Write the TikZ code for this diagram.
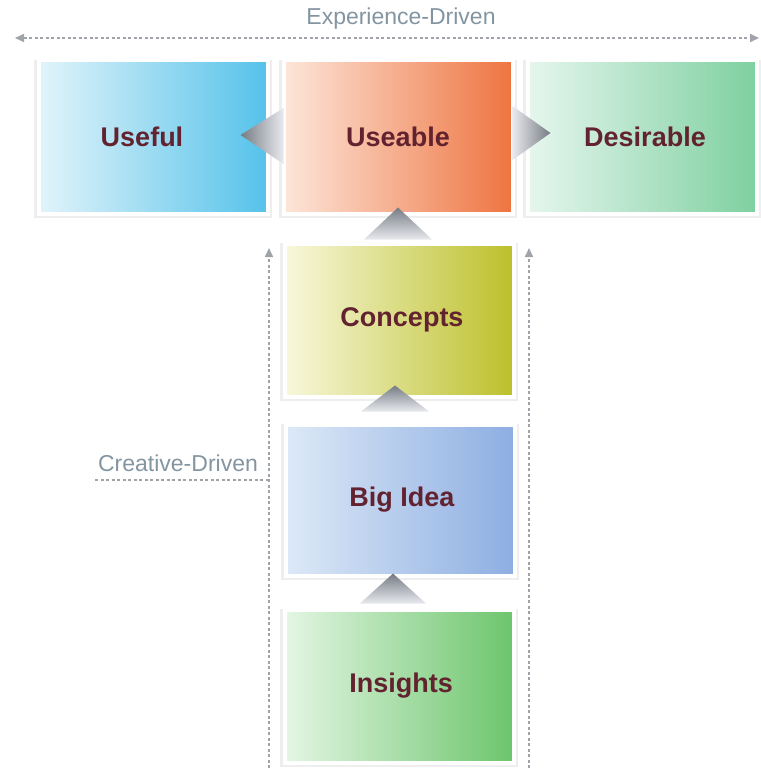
\documentclass[tikz,border=0pt]{standalone}
\usepackage{fontspec}
\setmainfont{Liberation Sans}
\usetikzlibrary{arrows.meta,shadows}
\definecolor{lbl}{HTML}{62222F}
\definecolor{dlbl}{HTML}{8495A2}
\definecolor{dashc}{HTML}{A0A4AA}
\definecolor{usefulL}{HTML}{E2F4FA}
\definecolor{usefulR}{HTML}{55C2EA}
\definecolor{useableL}{HTML}{FDE6DA}
\definecolor{useableR}{HTML}{EE7440}
\definecolor{desL}{HTML}{E6F6EE}
\definecolor{desR}{HTML}{7ED0A0}
\definecolor{conL}{HTML}{F8F8DC}
\definecolor{conR}{HTML}{BCC02A}
\definecolor{bigL}{HTML}{DDE9F7}
\definecolor{bigR}{HTML}{8DAEE2}
\definecolor{insL}{HTML}{E4F6E4}
\definecolor{insR}{HTML}{6CC56C}
\definecolor{triD}{HTML}{767B84}
\definecolor{triL}{HTML}{E8EAEE}
\tikzset{
  box/.style={rectangle, draw=white, line width=4pt, minimum width=229pt, minimum height=153pt,
    inner sep=0pt, font=\fontsize{27}{31}\selectfont\bfseries, text=lbl,
    drop shadow={opacity=0.13, shadow scale=1.035, shadow xshift=0pt, shadow yshift=-2pt}},
  dashline/.style={draw=dashc, line width=1.6pt, dash pattern=on 3pt off 2.5pt},
  arr/.style={-{Triangle[length=9pt,width=8pt]}},
  dlabel/.style={font=\fontsize{23}{27}\selectfont, text=dlbl, inner sep=0pt}
}
\begin{document}
\begin{tikzpicture}[x=1pt,y=-1pt]
\useasboundingbox (0,0) rectangle (760,768);
\fill[white] (0,0) rectangle (760,768);

% dashed guide lines
\coordinate (expL) at (15,38);
\coordinate (expR) at (759,38);
\coordinate (vlb) at (269,768);
\coordinate (vlt) at (269,248);
\coordinate (vrb) at (529,768);
\coordinate (vrt) at (529,248);
\coordinate (crL) at (95,480);
\coordinate (crR) at (269,480);
\draw[dashline, {Triangle[length=9pt,width=8pt]}-{Triangle[length=9pt,width=8pt]}] (expL) -- (expR);
\draw[dashline, arr] (vlb) -- (vlt);
\draw[dashline, arr] (vrb) -- (vrt);
\draw[dashline] (crL) -- (crR);
\node[dlabel] (exp) at (401,19) {Experience-Driven};
\node[dlabel] (cre) at (178,463) {Creative-Driven};

% boxes
\node[box, left color=usefulL, right color=usefulR] (useful) at (153,137) {\hspace*{-22pt}Useful};
\node[box, left color=useableL, right color=useableR] (useable) at (398,137) {Useable};
\node[box, left color=desL, right color=desR] (desirable) at (642,137) {\hspace*{6pt}Desirable};
\node[box, left color=conL, right color=conR] (concepts) at (399,320) {\hspace*{6pt}Concepts};
\node[box, minimum height=151pt, left color=bigL, right color=bigR] (bigidea) at (400,500) {\hspace*{4pt}Big Idea};
\node[box, left color=insL, right color=insR] (insights) at (399,686) {\hspace*{4pt}Insights};

% triangle connectors
\shade[left color=triD, right color=triL]
  ([xshift=-41pt,yshift=2pt]useable.west) -- ([xshift=2pt,yshift=29pt]useable.west) -- ([xshift=2pt,yshift=-27pt]useable.west) -- cycle;
\shade[left color=triL, right color=triD]
  ([xshift=36pt,yshift=4pt]useable.east) -- ([xshift=-2pt,yshift=31pt]useable.east) -- ([xshift=-2pt,yshift=-23pt]useable.east) -- cycle;
\shade[top color=triD, bottom color=triL]
  ([yshift=8pt]useable.south) -- ([xshift=-34pt,yshift=-24pt]useable.south) -- ([xshift=34pt,yshift=-24pt]useable.south) -- cycle;
\shade[top color=triD, bottom color=triL]
  ([xshift=-4pt,yshift=13pt]concepts.south) -- ([xshift=-38pt,yshift=-13pt]concepts.south) -- ([xshift=30pt,yshift=-13pt]concepts.south) -- cycle;
\shade[top color=triD, bottom color=triL]
  ([xshift=-7pt,yshift=4pt]bigidea.south) -- ([xshift=-40pt,yshift=-26pt]bigidea.south) -- ([xshift=26pt,yshift=-26pt]bigidea.south) -- cycle;
\end{tikzpicture}
\end{document}
